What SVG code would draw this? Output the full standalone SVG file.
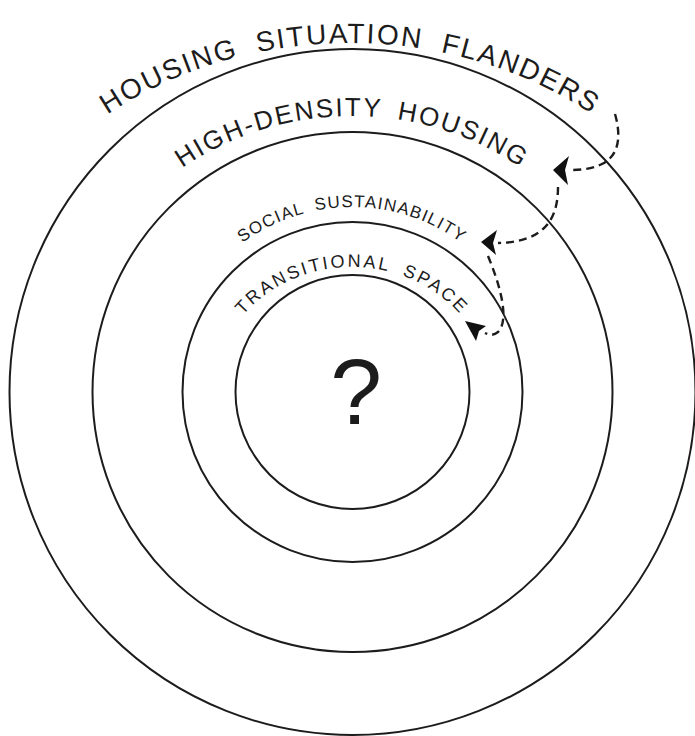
<svg xmlns="http://www.w3.org/2000/svg" width="695" height="736" viewBox="0 0 695 736">
<style>
.ring{fill:none;stroke:#1c1c1c;stroke-width:2}
.lbl{font-family:"Liberation Sans",Arial,sans-serif;fill:#1c1c1c}
.dash{fill:none;stroke:#1c1c1c;stroke-width:2.4;stroke-dasharray:8 5}
.head{fill:#111}
</style>
<defs>
<path id="p1" d="M -50 392 A 400 349 0 0 1 750 392"/>
<path id="p2" d="M 62 392 A 290 276 0 0 1 642 392"/>
<path id="p3" d="M 167 392 A 185 185 0 0 1 537 392"/>
<path id="p4" d="M 214 392 A 138 125 0 0 1 490 392"/>
</defs>
<rect width="695" height="736" fill="#fff"/>
<g id="ring-housing-situation-flanders">
<circle class="ring" cx="352.5" cy="392" r="343"/>
<text class="lbl" font-size="28" letter-spacing="2" word-spacing="9"><textPath href="#p1" startOffset="50%" text-anchor="middle">HOUSING SITUATION FLANDERS</textPath></text>
</g>
<g id="ring-high-density-housing">
<circle class="ring" cx="352.5" cy="392" r="260"/>
<text class="lbl" font-size="26" letter-spacing="2" word-spacing="6"><textPath href="#p2" startOffset="50%" text-anchor="middle">HIGH-DENSITY HOUSING</textPath></text>
</g>
<g id="ring-social-sustainability">
<circle class="ring" cx="352.5" cy="392" r="170"/>
<text class="lbl" font-size="17" letter-spacing="1.3" word-spacing="5"><textPath href="#p3" startOffset="50%" text-anchor="middle">SOCIAL SUSTAINABILITY</textPath></text>
</g>
<g id="ring-transitional-space">
<circle class="ring" cx="352.5" cy="392" r="117"/>
<text class="lbl" font-size="18" letter-spacing="2.5" word-spacing="6"><textPath href="#p4" startOffset="50%" text-anchor="middle">TRANSITIONAL SPACE</textPath></text>
</g>
<g id="core-question">
<text class="lbl" x="356" y="424" font-size="93" text-anchor="middle">?</text>
</g>
<g id="connectors">
<path class="dash" d="M 615 114 C 621 135, 620 155, 602 164 C 592 169, 580 170, 569 170"/>
<path class="head" d="M 553 170 L 569 156 L 565 170 L 568 185 Z"/>
<path class="dash" d="M 558 187 C 558 215, 548 242, 498 243"/>
<path class="head" d="M 481 242 L 497 230 L 493 243 L 496 255 Z"/>
<path class="dash" d="M 488 256 C 500 285, 510 320, 498 332 C 493 336, 489 335, 485 333"/>
<path class="head" d="M 465 321 L 486 326 L 479 331 L 476 341 Z"/>
</g>
</svg>
